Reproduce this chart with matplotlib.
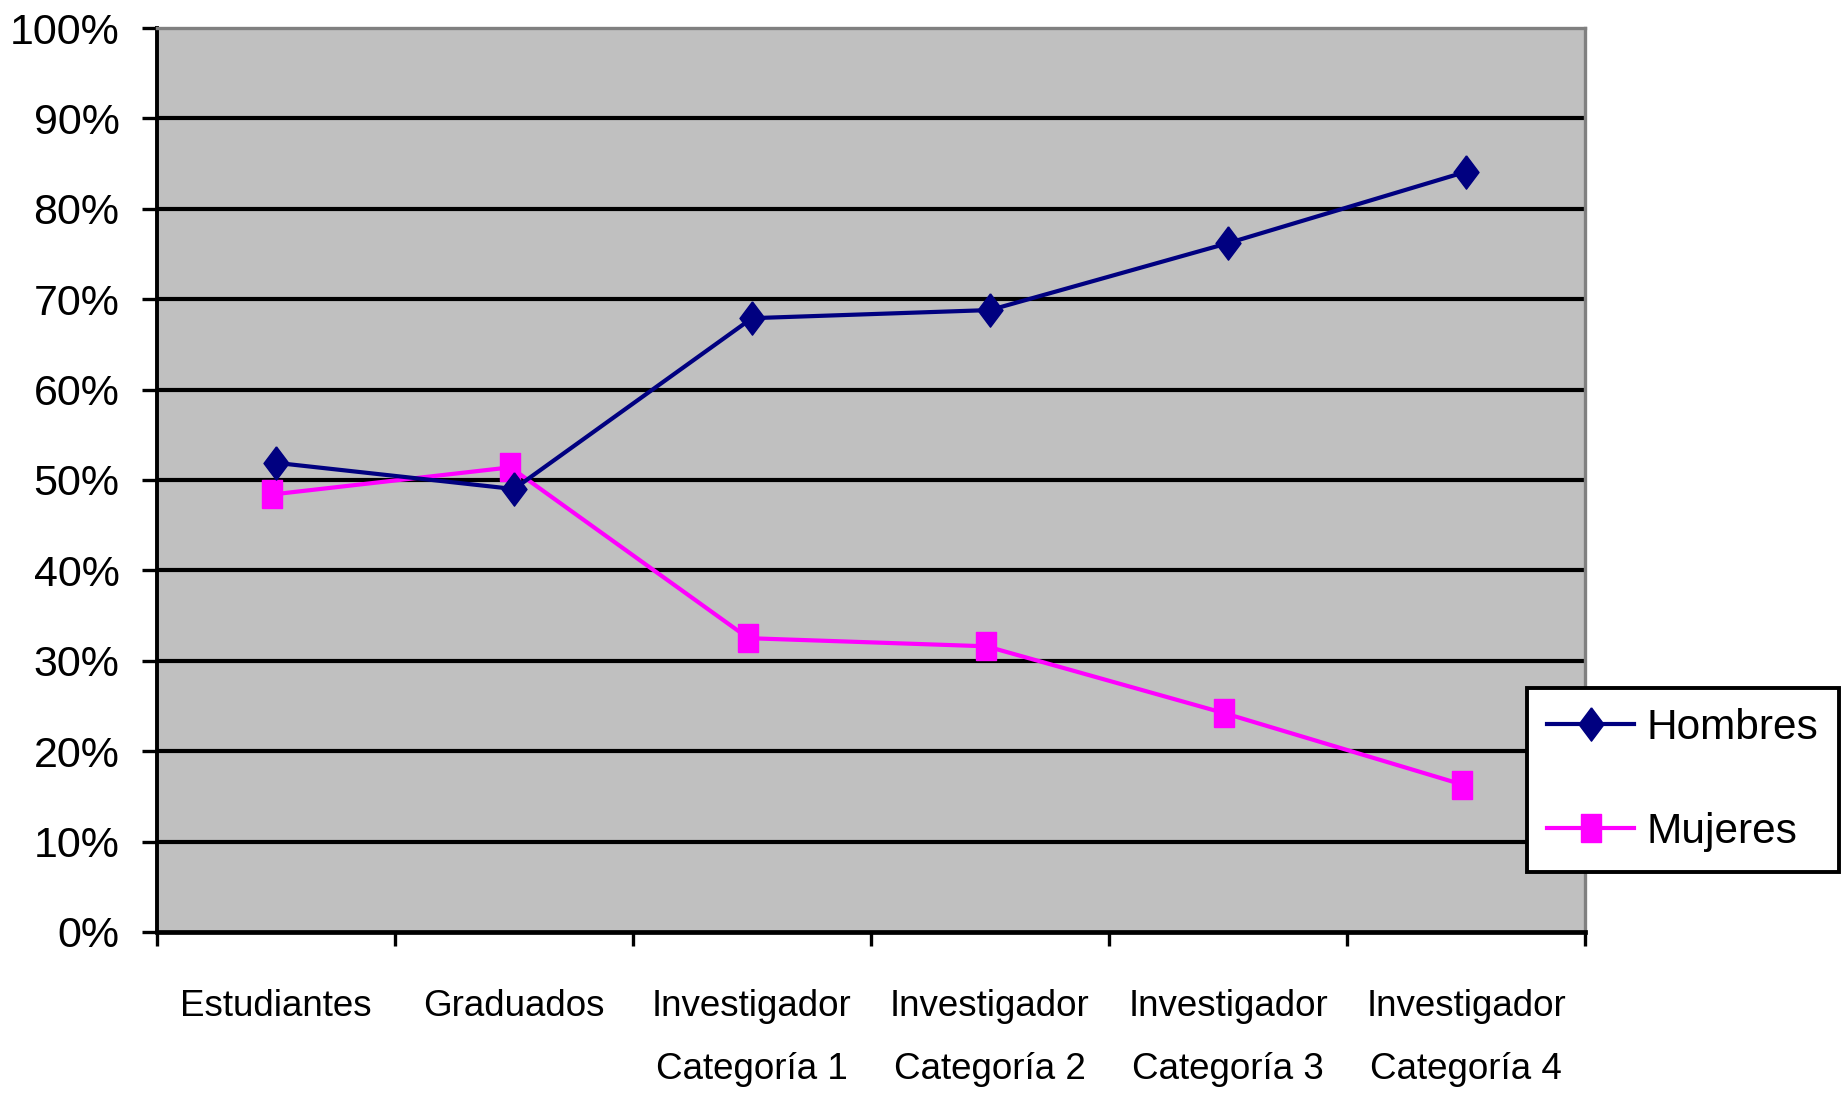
import numpy as np
import matplotlib
matplotlib.use('Agg')
import matplotlib.pyplot as plt
from matplotlib.ticker import FixedLocator, FuncFormatter

plt.rcParams['font.family'] = ['Liberation Sans', 'DejaVu Sans']

# data
categories = ['Estudiantes', 'Graduados', 'Investigador\nCategoría 1',
              'Investigador\nCategoría 2', 'Investigador\nCategoría 3',
              'Investigador\nCategoría 4']
hombres = [0.519, 0.490, 0.679, 0.688, 0.762, 0.841]
mujeres = [0.484, 0.514, 0.325, 0.316, 0.242, 0.163]
y_ticks = [0.0, 0.1, 0.2, 0.3, 0.4, 0.5, 0.6, 0.7, 0.8, 0.9, 1.0]

fig = plt.figure(figsize=(18.42, 10.99), dpi=100)
ax = fig.add_axes([0.0852, 0.152, 0.7753, 0.8225])
ax.set_facecolor('#C0C0C0')

x = np.arange(len(categories))

# custom markers (a bit taller than wide like the original)
diamond = [(0, 1), (0.75, 0), (0, -1), (-0.75, 0), (0, 1)]
square = [(-0.75, -1), (0.75, -1), (0.75, 1), (-0.75, 1), (-0.75, -1)]

ax.plot(x, hombres, color='#000080', lw=3, marker=diamond, ms=24,
        mec='#000080', mfc='#000080', label='Hombres', zorder=4)
ax.plot(x - 0.015, mujeres, color='#FF00FF', lw=3, marker=square, ms=20,
        mec='#FF00FF', mfc='#FF00FF', label='Mujeres', zorder=3)

ax.set_xlim(-0.5, len(categories) - 0.5)
ax.set_ylim(0, 1)

# horizontal grid lines
for yv in y_ticks[1:-1]:
    ax.axhline(yv, color='black', lw=3, zorder=1)

ax.yaxis.set_major_locator(FixedLocator(y_ticks))
ax.yaxis.set_major_formatter(FuncFormatter(lambda v, p: '%d%%' % round(v * 100)))
ax.tick_params(axis='y', direction='out', length=11, width=2.4, pad=16,
               labelsize=31, color='black')

ax.set_xticks(x)
ax.set_xticklabels(categories, fontsize=26.5, linespacing=2.05)
ax.tick_params(axis='x', which='major', length=0, pad=41)
ax.set_xticks(np.arange(-0.5, len(categories)), minor=True)
ax.tick_params(axis='x', which='minor', direction='out', length=10, width=2.4,
               color='black')

ax.spines['left'].set_linewidth(2.8)
ax.spines['left'].set_color('black')
ax.spines['bottom'].set_linewidth(3.4)
ax.spines['bottom'].set_color('black')
ax.spines['top'].set_color('#808080')
ax.spines['top'].set_linewidth(2.4)
ax.spines['right'].set_color('#808080')
ax.spines['right'].set_linewidth(2.4)

leg = fig.legend(loc='lower left', bbox_to_anchor=(0.829, 0.2065),
                 bbox_transform=fig.transFigure, fontsize=30.5, frameon=True,
                 fancybox=False, framealpha=1, handlelength=2.05,
                 handletextpad=0.3, labelspacing=1.5, borderpad=0.48,
                 borderaxespad=0)
leg.get_frame().set_edgecolor('black')
leg.get_frame().set_linewidth(2.8)
leg.get_frame().set_facecolor('white')

fig.savefig('out.png', dpi=100, facecolor='white')
